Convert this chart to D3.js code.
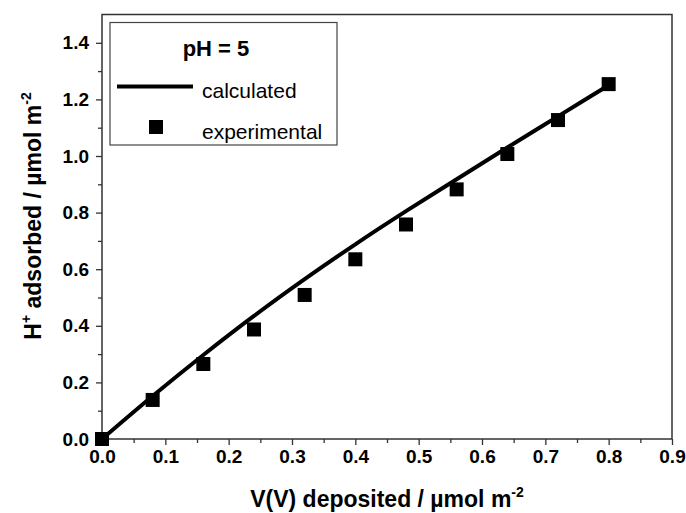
<!DOCTYPE html>
<html>
<head>
<meta charset="utf-8">
<title>H+ adsorbed vs V(V) deposited</title>
<script src="https://cdnjs.cloudflare.com/ajax/libs/d3/7.8.5/d3.min.js"></script>
<style>
    body { margin: 0; background: #fff; }
    svg { font-family: "Liberation Sans", Arial, sans-serif; }
</style>
</head>
<body>
<script>
    // data
    var vDeposited   = [0.0, 0.08, 0.16, 0.24, 0.32, 0.40, 0.48, 0.56, 0.64, 0.72, 0.80];
    var experimental = [0.0, 0.138, 0.265, 0.387, 0.509, 0.635, 0.758, 0.882, 1.007, 1.127, 1.254];
    var calculated   = [0.0, 0.152, 0.297, 0.435, 0.565, 0.688, 0.805, 0.918, 1.03, 1.14, 1.25];
    var xTicks = [0, 0.1, 0.2, 0.3, 0.4, 0.5, 0.6, 0.7, 0.8, 0.9];
    var yTicks = [0, 0.2, 0.4, 0.6, 0.8, 1.0, 1.2, 1.4];

    var W = 686, H = 513;
    // plot frame (note: "top" is reserved on window, so prefix these)
    var pLeft = 102, pRight = 672, pTop = 14.5, pBottom = 439;

    var svg = d3.select("body").append("svg")
            .attr("width", W)
            .attr("height", H);

    var x = d3.scaleLinear().domain([0, 0.9]).range([pLeft, pRight]);
    var y = d3.scaleLinear().domain([0, 1.5]).range([pBottom, pTop]);

    var axisColor = "#333";

    // minor ticks first, then major with labels
    svg.append("g")
            .attr("transform", "translate(0," + pBottom + ")")
            .call(d3.axisBottom(x).tickValues(d3.range(0.05, 0.9, 0.1)).tickSize(4).tickFormat(""));
    svg.append("g")
            .attr("transform", "translate(" + pLeft + ",0)")
            .call(d3.axisLeft(y).tickValues(d3.range(0.1, 1.5, 0.2)).tickSize(4).tickFormat(""));

    svg.append("g")
            .attr("transform", "translate(0," + pBottom + ")")
            .call(d3.axisBottom(x).tickValues(xTicks).tickSize(6).tickPadding(5).tickFormat(d3.format(".1f")));
    svg.append("g")
            .attr("transform", "translate(" + pLeft + ",0)")
            .call(d3.axisLeft(y).tickValues(yTicks).tickSize(6).tickPadding(7).tickFormat(d3.format(".1f")));

    svg.selectAll(".domain").remove();
    svg.selectAll(".tick line").attr("stroke", axisColor).attr("stroke-width", 1.3);
    svg.selectAll(".tick text")
            .attr("fill", "#000")
            .style("font-size", "19px")
            .style("font-weight", "bold")
            .style("font-family", "'Liberation Sans', Arial, sans-serif");

    // frame
    svg.append("rect")
            .attr("x", pLeft).attr("y", pTop)
            .attr("width", pRight - pLeft).attr("height", pBottom - pTop)
            .attr("fill", "none")
            .attr("stroke", axisColor)
            .attr("stroke-width", 1.5);

    // calculated curve
    var line = d3.line()
            .x(function(d, i) { return x(vDeposited[i]); })
            .y(function(d) { return y(d); })
            .curve(d3.curveMonotoneX);

    svg.append("path")
            .datum(calculated)
            .attr("d", line)
            .attr("fill", "none")
            .attr("stroke", "#000")
            .attr("stroke-width", 4);

    // experimental points
    var sq = 14;
    svg.selectAll("rect.pt")
            .data(experimental)
            .enter()
            .append("rect")
            .attr("class", "pt")
            .attr("x", function(d, i) { return x(vDeposited[i]) - sq / 2; })
            .attr("y", function(d) { return y(d) - sq / 2; })
            .attr("width", sq)
            .attr("height", sq)
            .attr("fill", "#000");

    // axis titles
    var xt = svg.append("text")
            .attr("x", 387).attr("y", 506.5)
            .attr("text-anchor", "middle")
            .style("font-size", "23px")
            .style("font-weight", "bold");
    xt.append("tspan").text("V(V) deposited / \u00b5mol m");
    xt.append("tspan").attr("dy", -10).style("font-size", "14px").text("-2");

    var yt = svg.append("text")
            .attr("transform", "translate(41,216) rotate(-90)")
            .attr("text-anchor", "middle")
            .style("font-size", "23px")
            .style("font-weight", "bold");
    yt.append("tspan").text("H");
    yt.append("tspan").attr("dy", -10).style("font-size", "14px").text("+");
    yt.append("tspan").attr("dy", 10).text(" adsorbed / \u00b5mol m");
    yt.append("tspan").attr("dy", -10).style("font-size", "14px").text("-2");

    // legend
    var lg = svg.append("g");
    lg.append("rect")
            .attr("x", 110).attr("y", 22.5)
            .attr("width", 227).attr("height", 122.5)
            .attr("fill", "#fff")
            .attr("stroke", "#444")
            .attr("stroke-width", 1.2);
    lg.append("text")
            .attr("x", 216).attr("y", 56)
            .attr("text-anchor", "middle")
            .style("font-size", "22px")
            .style("font-weight", "bold")
            .text("pH = 5");
    lg.append("line")
            .attr("x1", 117).attr("x2", 193)
            .attr("y1", 86.5).attr("y2", 86.5)
            .attr("stroke", "#000")
            .attr("stroke-width", 4);
    lg.append("text")
            .attr("x", 202).attr("y", 98)
            .style("font-size", "21px")
            .text("calculated");
    lg.append("rect")
            .attr("x", 156 - sq / 2).attr("y", 127 - sq / 2)
            .attr("width", sq).attr("height", sq)
            .attr("fill", "#000");
    lg.append("text")
            .attr("x", 202).attr("y", 139)
            .style("font-size", "21px")
            .text("experimental");
</script>
</body>
</html>
